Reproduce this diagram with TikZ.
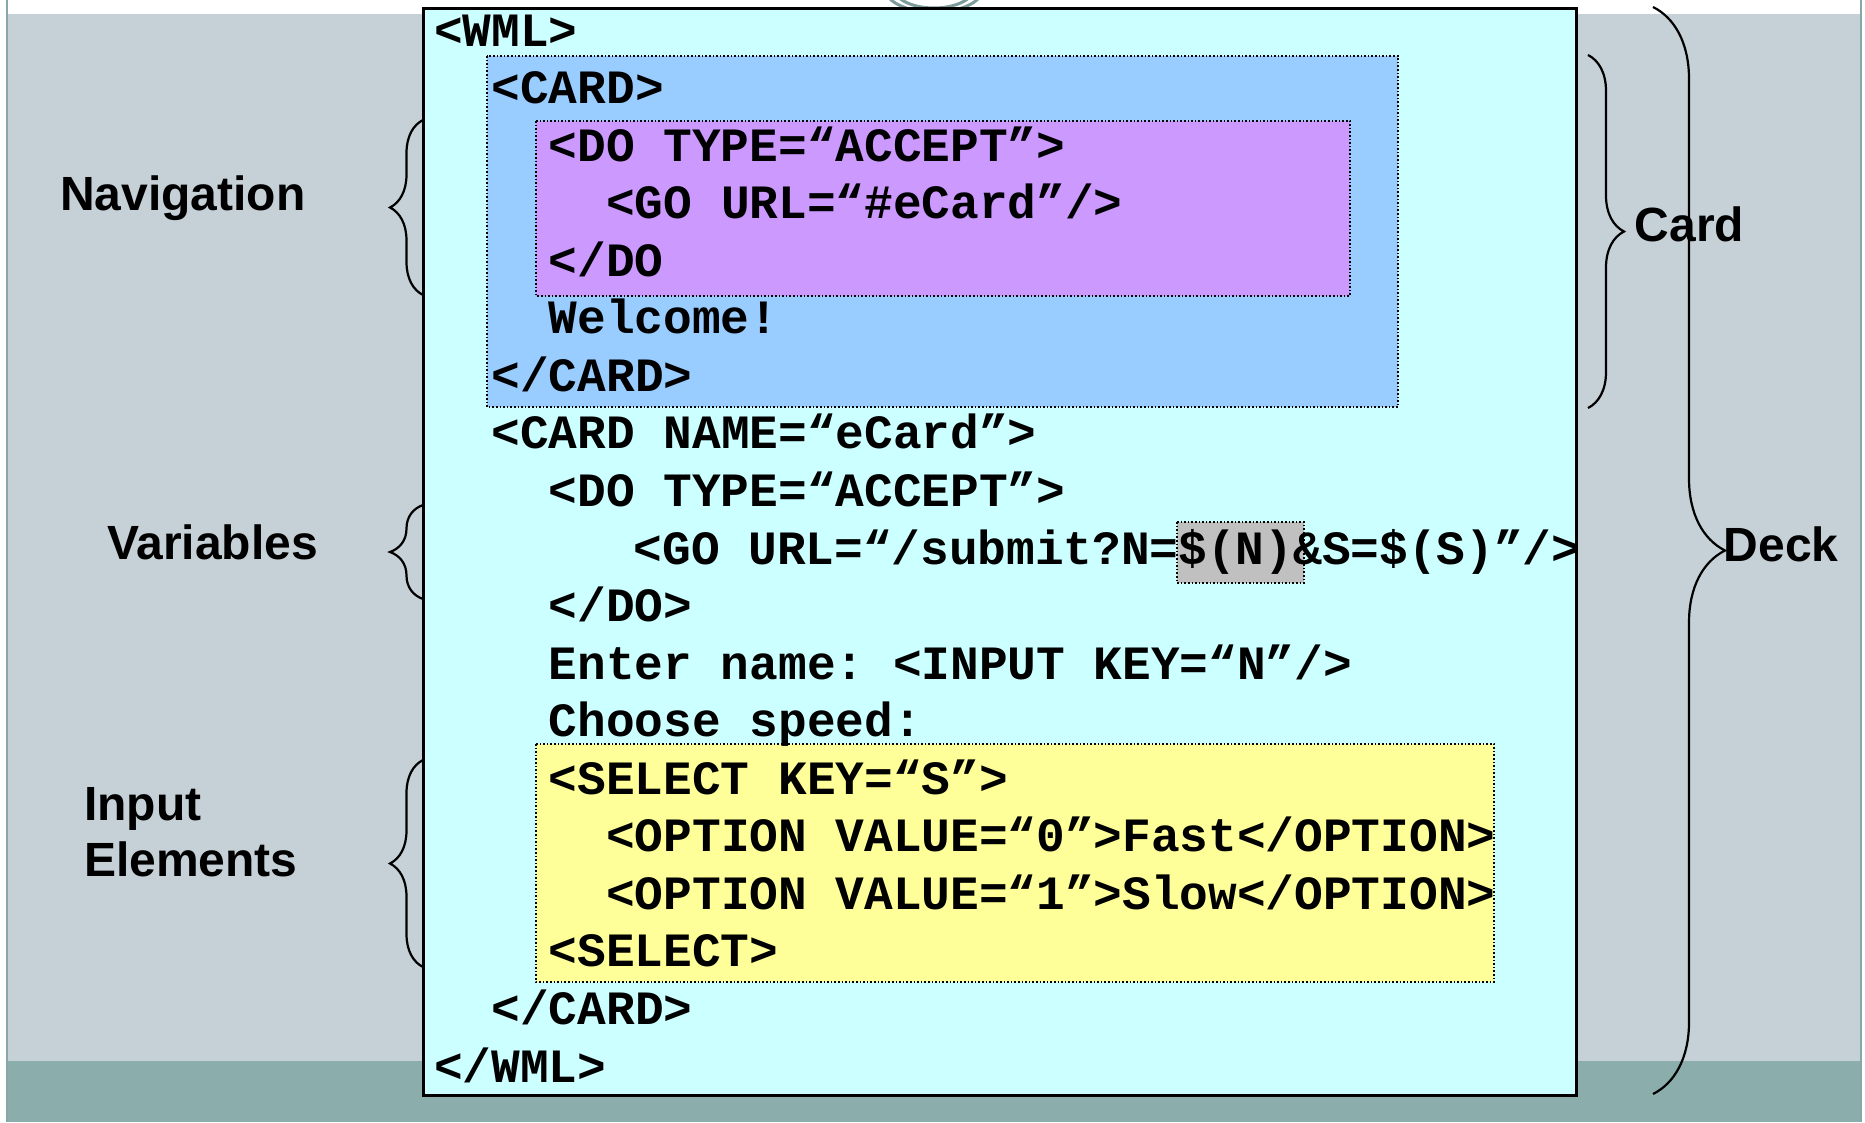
\documentclass[tikz,border=0pt]{standalone}
\usepackage{fontspec}
\setmainfont{Liberation Sans}
\setsansfont{Liberation Sans}
\setmonofont{Liberation Mono}
\usetikzlibrary{decorations.pathreplacing}
\definecolor{slidegray}{HTML}{C6D1D7}
\definecolor{slideteal}{HTML}{8BAEAD}
\definecolor{edgeteal}{HTML}{86A8A8}
\definecolor{ringgray}{HTML}{7C9B9B}
\definecolor{deckcyan}{HTML}{CCFFFF}
\definecolor{cardblue}{HTML}{99CCFF}
\definecolor{navpurple}{HTML}{CC99FF}
\definecolor{inputyellow}{HTML}{FFFF99}
\definecolor{vargray}{HTML}{C0C0C0}
\tikzset{
  code/.style={anchor=base west, inner sep=0pt, font=\ttfamily\bfseries\fontsize{47.8}{57.6}\selectfont},
  lbl/.style={anchor=base west, inner sep=0pt, font=\sffamily\bfseries\fontsize{48}{56}\selectfont},
  dotbox/.style={draw=black, dotted, line width=1.6pt},
  brc/.style={decorate, decoration={brace, amplitude=#1}, draw=black, line width=2.2pt},
}
\begin{document}
\begin{tikzpicture}[x=1pt,y=-1pt]
\useasboundingbox (0,0) rectangle (1865,1122);
% slide background
\fill[white] (0,0) rectangle (1865,1122);
\fill[slidegray] (7,14) rectangle (1861,1061);
\fill[slideteal] (7,1061) rectangle (1861,1122);
\draw[edgeteal, line width=2pt] (7,0) -- (7,1122);
\draw[edgeteal, line width=2pt] (1861,0) -- (1861,1122);
% decorative rings
\begin{scope}
\clip (0,0) rectangle (1865,14);
\draw[ringgray, line width=3pt] (934,-10) ellipse [x radius=48, y radius=22];
\draw[ringgray, line width=3pt] (934,-12) ellipse [x radius=40, y radius=20];
\end{scope}
% main deck box
\coordinate (deckTL) at (423,8);
\coordinate (deckBR) at (1576,1095);
\draw[fill=deckcyan, line width=3pt] (deckTL) rectangle (deckBR);
% inner boxes
\coordinate (cardTL) at (487,56);
\coordinate (cardBR) at (1398,407);
\fill[cardblue] (cardTL) rectangle (cardBR);
\draw[dotbox] (cardTL) rectangle (cardBR);
\coordinate (navTL) at (536,121);
\coordinate (navBR) at (1350,296);
\fill[navpurple] (navTL) rectangle (navBR);
\draw[dotbox] (navTL) rectangle (navBR);
\coordinate (inTL) at (536,744);
\coordinate (inBR) at (1494,982);
\fill[inputyellow] (inTL) rectangle (inBR);
\draw[dotbox] (inTL) rectangle (inBR);
\coordinate (varTL) at (1177,522);
\coordinate (varBR) at (1304,583);
\fill[vargray] (varTL) rectangle (varBR);
\draw[dotbox] (varTL) rectangle (varBR);
% code lines
\node[code] (l1)  at (434,46)      {<WML>};
\node[code] (l2)  at (491.4,103.56)   {<CARD>};
\node[code] (l3)  at (548.7,161.12)  {<DO TYPE=“ACCEPT”>};
\node[code] (l4)  at (606.1,218.68)  {<GO URL=“\#eCard”/>};
\node[code] (l5)  at (548.7,276.24)  {</DO};
\node[code] (l6)  at (548.7,333.8)   {Welcome!};
\node[code] (l7)  at (491.4,391.36)  {</CARD>};
\node[code] (l8)  at (491.4,448.92)  {<CARD NAME=“eCard”>};
\node[code] (l9)  at (548.7,506.48)  {<DO TYPE=“ACCEPT”>};
\node[code] (l10) at (633.5,564.04)  {<GO URL=“/submit?N=\$(N)\&S=\$(S)”/>};
\node[code] (l11) at (548.7,621.6)   {</DO>};
\node[code] (l12) at (548.7,679.16)  {Enter name: <INPUT KEY=“N”/>};
\node[code] (l13) at (548.7,736.72)  {Choose speed:};
\node[code] (l14) at (548.7,794.28)  {<SELECT KEY=“S”>};
\node[code] (l15) at (606.1,851.84)  {<OPTION VALUE=“0”>Fast</OPTION>};
\node[code] (l16) at (606.1,909.4)   {<OPTION VALUE=“1”>Slow</OPTION>};
\node[code] (l17) at (548.7,966.96)  {<SELECT>};
\node[code] (l18) at (491.4,1024.52) {</CARD>};
\node[code] (l19) at (434,1082.08) {</WML>};
% side labels
\node[lbl] (navlbl) at (60,210) {Navigation};
\node[lbl] (varlbl) at (107,559) {Variables};
\node[lbl] (inlbl1) at (84,820) {Input};
\node[lbl] (inlbl2) at (84,876) {Elements};
\node[lbl] (cardlbl) at (1634.5,241.5) {Card};
\node[lbl] (decklbl) at (1723.5,561.4) {Deck};
% braces
\coordinate (navB) at (423,295);  \coordinate (navT) at (423,120);
\coordinate (varB) at (423,599);  \coordinate (varT) at (423,505);
\coordinate (inB)  at (423,967);  \coordinate (inT)  at (423,760);
\coordinate (cardT) at (1588,55); \coordinate (cardB) at (1588,408);
\coordinate (deckT) at (1653,7);  \coordinate (deckB) at (1653,1094);
\draw[brc=33] (navB) -- (navT);
\draw[brc=33] (varB) -- (varT);
\draw[brc=33] (inB) -- (inT);
\draw[brc=36] (cardT) -- (cardB);
\draw[brc=72] (deckT) -- (deckB);
\end{tikzpicture}
\end{document}
